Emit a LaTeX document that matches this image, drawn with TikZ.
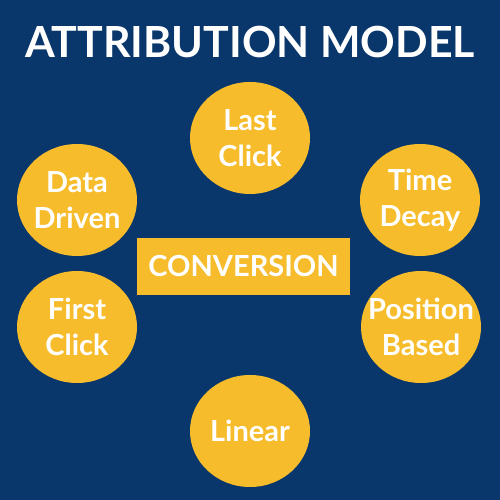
\documentclass[tikz,border=0pt]{standalone}
\usepackage{fontspec}
\setmainfont{Lato}
\usetikzlibrary{shapes.geometric,positioning}
\definecolor{navy}{HTML}{0A376B}
\definecolor{gold}{HTML}{F6BC2B}
\tikzset{
  model/.style={ellipse, fill=gold, inner xsep=-1cm, inner ysep=-0.6cm, minimum width=2.4cm, minimum height=2.24cm,
    text=white, font=\bfseries\fontsize{16.5}{20.5}\selectfont, align=center},
  goal/.style={rectangle, fill=gold, inner sep=0pt, minimum width=4.26cm, minimum height=1.14cm,
    text=white, font=\bfseries\fontsize{16.5}{20}\selectfont}
}
\begin{document}
\begin{tikzpicture}
          \fill[navy] (0,0) rectangle (10,10);
          \useasboundingbox (0,0) rectangle (10,10);
          \node[text=white, font=\bfseries\fontsize{24.4}{28}\selectfont] (title) at (5,9.15) {ATTRIBUTION MODEL};
          \node[goal] (conv) at (4.87,4.67) {CONVERSION};
          \node[model] (last) at (5,7.24) {Last\\Click};
          \node[model] (data) at (1.54,6) {Data\\Driven};
          \node[model] (time) at (8.4,6) {Time\\Decay};
          \node[model] (first) at (1.54,3.46) {First\\Click};
          \node[model] (pos) at (8.42,3.46) {Position\\Based};
          \node[model] (lin) at (5,1.38) {Linear};
        \end{tikzpicture}
\end{document}
